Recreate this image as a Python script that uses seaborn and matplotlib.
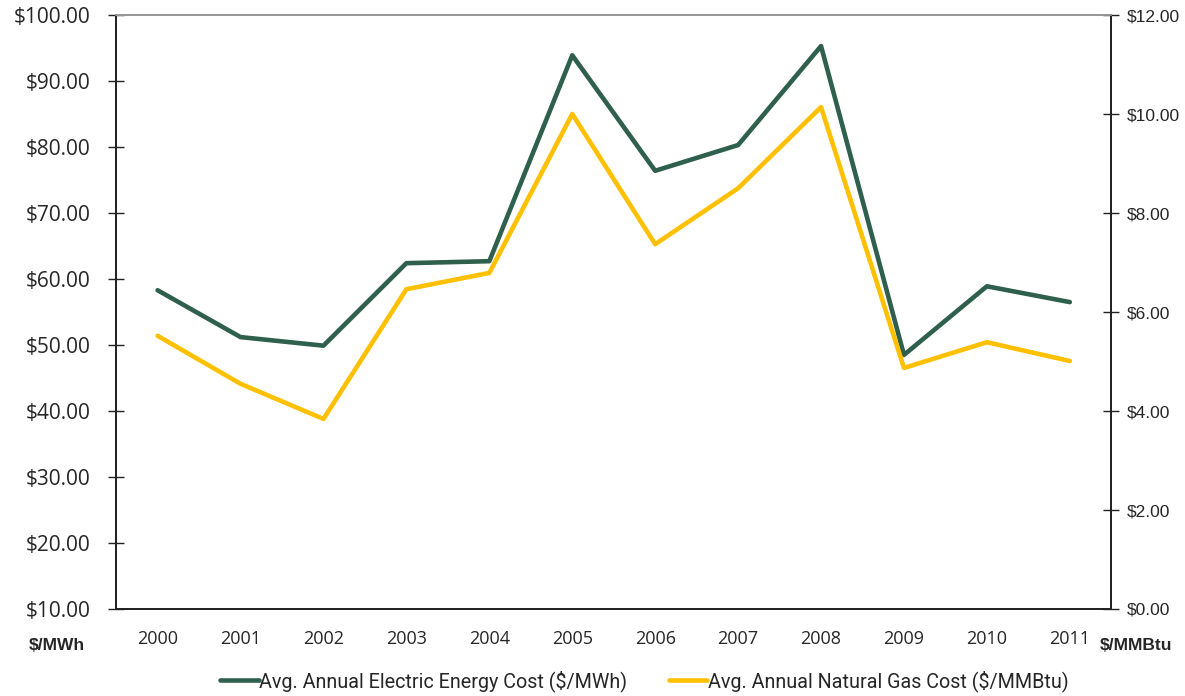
import numpy as np
import pandas as pd
import seaborn as sns
import matplotlib.pyplot as plt
from matplotlib.ticker import FixedLocator

years = ["2000", "2001", "2002", "2003", "2004", "2005",
         "2006", "2007", "2008", "2009", "2010", "2011"]
electric = [58.3, 51.2, 49.9, 62.4, 62.7, 93.9, 76.4, 80.3, 95.3, 48.5, 58.9, 56.5]
gas = [5.52, 4.55, 3.84, 6.46, 6.79, 10.0, 7.37, 8.50, 10.14, 4.87, 5.39, 5.01]

sns.set_style("white")
plt.rcParams['font.family'] = ['Open Sans', 'DejaVu Sans']

green = "#2F5F4D"
yellow = "#FFC000"

df = pd.DataFrame({"year": years, "electric": electric, "gas": gas})
df["pos"] = np.arange(len(years))

fig = plt.figure(figsize=(11.85, 6.96), dpi=100)
ax = fig.add_axes([0.098, 0.125, 0.8398, 0.8534])
ax2 = ax.twinx()

sns.lineplot(data=df, x="pos", y="electric", ax=ax, color=green, linewidth=3.3,
             label="Avg. Annual Electric Energy Cost ($/MWh)", legend=False)
sns.lineplot(data=df, x="pos", y="gas", ax=ax2, color=yellow, linewidth=3.3,
             label="Avg. Annual Natural Gas Cost ($/MMBtu)", legend=False)

ax.set_xlim(-0.5, len(years) - 0.5)
ax.set_ylim(10, 100)
ax2.set_ylim(0, 12)

ax.set_yticks(np.arange(10, 101, 10))
ax.set_yticklabels([f"${v:.2f}" for v in np.arange(10, 101, 10)], fontsize=15)
ax2.set_yticks(np.arange(0, 12.1, 2))
ax2.set_yticklabels([f"${v:.2f}" for v in np.arange(0, 12.1, 2)],
                    fontsize=12.5, family="Liberation Sans")

ax.set_xticks(df["pos"])
ax.set_xticklabels(years, fontsize=13)
ax.xaxis.set_minor_locator(FixedLocator(np.arange(-0.5, len(years), 1)))
ax.tick_params(axis="x", which="major", length=0, pad=15)
ax.tick_params(axis="x", which="minor", length=7, width=1, color="#222222", direction="out")
ax.tick_params(axis="y", length=11, width=1, color="#222222", direction="inout", pad=13)
ax2.tick_params(axis="y", length=11, width=1, color="#222222", direction="inout", pad=6)

ax.set_xlabel("")
ax.set_ylabel("")
ax2.set_ylabel("")

for a in (ax, ax2):
    for s in ("left", "bottom", "right"):
        a.spines[s].set_color("#222222")
        a.spines[s].set_linewidth(1.3)
    a.spines["top"].set_color("#999999")
    a.spines["top"].set_linewidth(1.3)

fig.text(0.048, 0.073, "$/MWh", fontsize=12.5, fontweight="bold",
         family="Liberation Sans", ha="center", va="center")
fig.text(0.959, 0.073, "$/MMBtu", fontsize=12.5, fontweight="bold",
         family="Liberation Sans", ha="center", va="center")

h1, l1 = ax.get_legend_handles_labels()
h2, l2 = ax2.get_legend_handles_labels()
fig.legend(h1 + h2, l1 + l2, loc="center", bbox_to_anchor=(0.544, 0.022),
           ncol=2, frameon=False, handlelength=1.95,
           handletextpad=0.05, columnspacing=2.1,
           prop={"family": "Roboto", "size": 14.2})

fig.savefig("out.png", dpi=100)
